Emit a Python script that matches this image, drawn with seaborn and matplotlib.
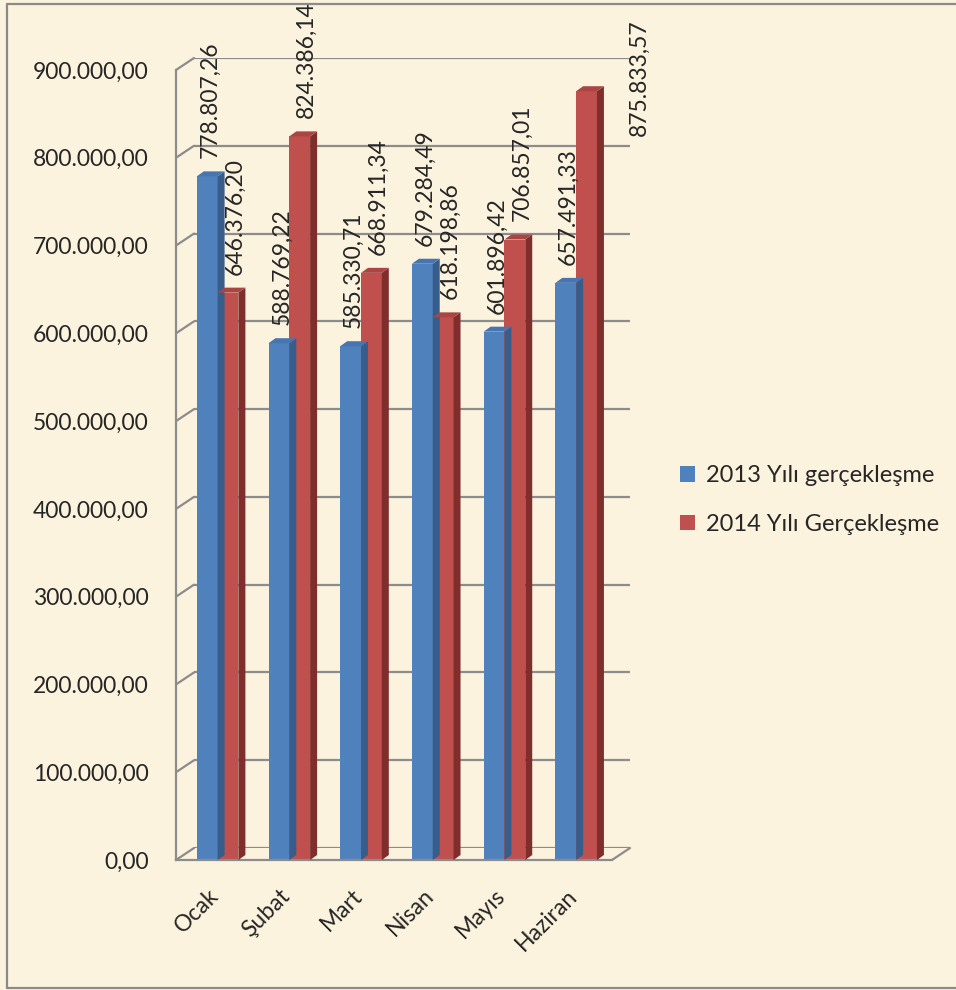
import pandas as pd
import matplotlib.pyplot as plt
import seaborn as sns
from matplotlib.patches import Patch, Polygon, ConnectionPatch
from matplotlib.lines import Line2D
from matplotlib.transforms import ScaledTranslation

# data
months = ['Ocak', 'Şubat', 'Mart', 'Nisan', 'Mayıs', 'Haziran']
series_names = ['2013 Yılı gerçekleşme', '2014 Yılı Gerçekleşme']
values_2013 = [778807.26, 588769.22, 585330.71, 679284.49, 601896.42, 657491.33]
values_2014 = [646376.20, 824386.14, 668911.34, 618198.86, 706857.01, 875833.57]
y_ticks = [0, 100000, 200000, 300000, 400000, 500000, 600000, 700000, 800000, 900000]

front_colors = ['#4F81BD', '#C0504D']
side_colors = ['#385D8A', '#7F2E2C']
top_colors = ['#4675B0', '#AA4543']
grid_color = '#8C8C8C'
bg = '#FCF3DE'
fs = 16.5


def tr_format(v):
    s = f"{v:,.2f}"
    return s.replace(',', '#').replace('.', ',').replace('#', '.')


df = pd.DataFrame({
    'ay': months * 2,
    'seri': [series_names[0]] * len(months) + [series_names[1]] * len(months),
    'deger': values_2013 + values_2014,
})

sns.set_style('white')
plt.rcParams['font.family'] = ['Lato', 'DejaVu Sans']

W, H = 956, 990
fig = plt.figure(figsize=(W / 100, H / 100), dpi=100, facecolor=bg)

# front plane (bars, axis) and back wall (gridlines) offset for the 3D look
fx0, fx1, fy0, fy1 = 176, 612, 860, 70
dx, dy = 18, 12
back = fig.add_axes([(fx0 + dx) / W, (H - fy0 + dy) / H, (fx1 - fx0) / W, (fy0 - fy1) / H])
ax = fig.add_axes([fx0 / W, (H - fy0) / H, (fx1 - fx0) / W, (fy0 - fy1) / H])

for a in (back, ax):
    a.set_ylim(0, 900000)
    a.set_facecolor('none')

back.set_xticks([])
back.set_yticks(y_ticks)
back.tick_params(left=False, labelleft=False)
back.grid(axis='y', color=grid_color, lw=1.6)
for s in back.spines.values():
    s.set_visible(False)

sns.barplot(data=df, x='ay', y='deger', hue='seri', palette=front_colors,
            width=0.58, saturation=1, ax=ax, legend=False, zorder=2, linewidth=0)
ax.set_xlim(-0.58, 5.42)
ax.set_xlabel('')
ax.set_ylabel('')

for s in ['top', 'right']:
    ax.spines[s].set_visible(False)
for s in ['left', 'bottom']:
    ax.spines[s].set_color(grid_color)
    ax.spines[s].set_linewidth(1.6)

ax.set_yticks(y_ticks)
ax.set_yticklabels([tr_format(v) for v in y_ticks], fontsize=fs)
ax.tick_params(axis='y', length=6.5, width=1.6, color=grid_color, pad=13)

ax.set_xticks([i - 0.5 for i in range(len(months) + 1)])
ax.set_xticklabels([''] * (len(months) + 1))
ax.tick_params(axis='x', which='major', length=6, width=1.6, color=grid_color, direction='out')
ax.set_xticks(range(len(months)), minor=True)
ax.set_xticklabels(months, minor=True, fontsize=fs, rotation=45, ha='right',
                   va='top', rotation_mode='anchor')
ax.tick_params(axis='x', which='minor', length=0, pad=18)
shift = ScaledTranslation(-7 / 72, 0, fig.dpi_scale_trans)
for lbl in ax.get_xticklabels(minor=True):
    lbl.set_transform(lbl.get_transform() + shift)

# diagonals from front ticks to the back wall
for v in y_ticks:
    con = ConnectionPatch(xyA=(0, v), coordsA=ax.get_yaxis_transform(),
                          xyB=(0, v), coordsB=back.get_yaxis_transform(),
                          color=grid_color, lw=1.6, zorder=0)
    fig.add_artist(con)
fig.add_artist(ConnectionPatch(xyA=(1, 0), coordsA=ax.transAxes,
                               xyB=(1, 0), coordsB=back.transAxes,
                               color=grid_color, lw=1.6))

# pseudo 3D faces on the bars
fig.canvas.draw()
depth, rise = 7, 5
to_disp = ax.transData
for k, cont in enumerate(ax.containers):
    for bar in cont:
        x0, y0 = to_disp.transform((bar.get_x(), 0))
        x1, y1 = to_disp.transform((bar.get_x() + bar.get_width(), bar.get_height()))
        side = Polygon([(x1, y0), (x1 + depth, y0 + rise), (x1 + depth, y1 + rise), (x1, y1)],
                       closed=True, transform=None, facecolor=side_colors[k],
                       edgecolor='none', zorder=1.9)
        top = Polygon([(x0, y1), (x0 + depth, y1 + rise), (x1 + depth, y1 + rise), (x1, y1)],
                      closed=True, transform=None, facecolor=top_colors[k],
                      edgecolor='none', zorder=1.9)
        fig.add_artist(side)
        fig.add_artist(top)

# data labels, rotated
for k, cont in enumerate(ax.containers):
    vals = values_2013 if k == 0 else values_2014
    for i, bar in enumerate(cont):
        off = (2, 13) if k == 0 else (5, 13)
        if k == 1 and i == len(months) - 1:
            off = (38, -32)
        ax.annotate(tr_format(vals[i]), (bar.get_x() + bar.get_width() / 2, bar.get_height()),
                    xytext=off, textcoords='offset points', rotation=90,
                    ha='center', va='bottom', fontsize=fs, annotation_clip=False)

handles = [Patch(facecolor=c, edgecolor='none') for c in front_colors]
fig.legend(handles, series_names, loc='center left', bbox_to_anchor=(659 / W, 1 - 500 / H),
           frameon=False, prop={'family': 'Lato', 'size': 17},
           handlelength=0.62, handleheight=0.62, handletextpad=0.45, labelspacing=1.15)

# outer frame of the picture
fc = '#8A8A8A'
fig.add_artist(Line2D([7 / W, 7 / W], [2 / H, 1 - 4 / H], color=fc, lw=1.6))
fig.add_artist(Line2D([7 / W, 1], [1 - 4 / H, 1 - 4 / H], color=fc, lw=1.6))
fig.add_artist(Line2D([7 / W, 1], [2 / H, 2 / H], color=fc, lw=1.6))

fig.savefig('out.png', dpi=100, facecolor=bg)
